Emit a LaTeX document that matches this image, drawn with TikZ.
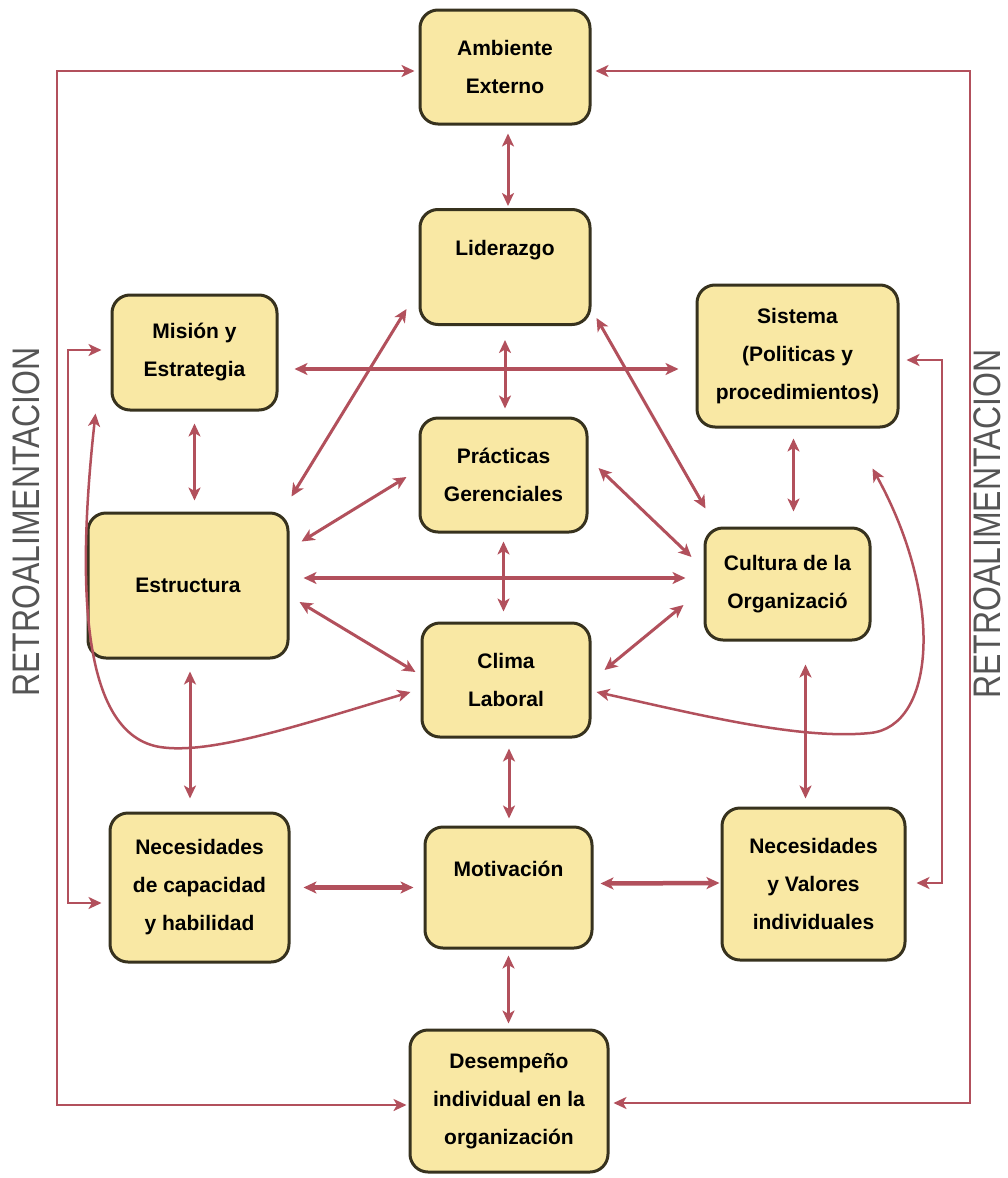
\documentclass[tikz,border=0pt]{standalone}
\usepackage{fontspec}
\setmainfont{Liberation Sans}
\usetikzlibrary{arrows.meta,calc}
\definecolor{boxfill}{RGB}{249,232,164}
\definecolor{boxline}{RGB}{55,50,30}
\definecolor{arrowc}{RGB}{178,80,92}
\definecolor{retro}{RGB}{85,85,85}
\begin{document}
\begin{tikzpicture}[x=1pt,y=-1pt,
  >={Stealth[length=13pt,width=12pt,inset=3.5pt]},
  box/.style={draw=boxline, fill=boxfill, line width=3pt, rounded corners=18pt, inner sep=0pt, align=center, font=\fontsize{21}{38}\selectfont\bfseries},
  arr/.style={draw=arrowc, line width=3pt, <->},
  arrthick/.style={arr, line width=4.5pt},
  curvearr/.style={arr, line width=2.5pt},
  fb/.style={draw=arrowc, line width=2.4pt, <->},
  retrotext/.style={rotate=90, text=retro, font=\fontsize{32}{32}\selectfont, inner sep=0pt}
]
\fill[white] (0,0) rectangle (1007,1178);
\useasboundingbox (0,0) rectangle (1007,1178);

% boxes
\node[box, minimum width=170pt, minimum height=114pt] (amb) at (505,67) {Ambiente\\Externo};
\node[box, minimum width=170pt, minimum height=115pt] (lid) at (505,267) {Liderazgo\\\mbox{}};
\node[box, minimum width=165pt, minimum height=115pt] (mis) at (194.5,352.5) {Misión y\\Estrategia};
\node[box, minimum width=201pt, minimum height=142pt] (sis) at (797.5,356) {Sistema\\(Politicas y\\procedimientos)};
\node[box, minimum width=167pt, minimum height=114pt] (pra) at (503.5,475) {Prácticas\\Gerenciales};
\node[box, minimum width=200pt, minimum height=145pt] (est) at (188,585.5) {Estructura};
\node[box, minimum width=165pt, minimum height=112pt] (cul) at (787.5,584) {Cultura de la\\Organizació};
\node[box, minimum width=168pt, minimum height=114pt] (cli) at (506,680) {Clima\\Laboral};
\node[box, minimum width=179pt, minimum height=149pt] (nca) at (199.5,887.5) {Necesidades\\de capacidad\\y habilidad};
\node[box, minimum width=167pt, minimum height=121pt] (mot) at (508.5,887.5) {Motivación\\\mbox{}};
\node[box, minimum width=183pt, minimum height=152pt] (nva) at (813.5,884) {Necesidades\\y Valores\\individuales};
\node[box, minimum width=198pt, minimum height=142pt] (des) at (509,1101) {Desempeño\\individual en la\\organización};

% side labels
\node[retrotext] (retroL) at (26,522) {\scalebox{1}[1.2]{RETROALIMENTACION}};
\node[retrotext] (retroR) at (987,524) {\scalebox{1}[1.2]{RETROALIMENTACION}};

% feedback loops
\coordinate (olt) at (57,71);
\coordinate (olb) at (57,1105);
\coordinate (ort) at (970,71);
\coordinate (orb) at (970,1103);
\coordinate (ilt) at (68,350);
\coordinate (ilb) at (68,903);
\coordinate (irt) at (942,360);
\coordinate (irb) at (942,883);
\draw[fb, shorten <=4pt, shorten >=2pt] (olt -| amb.west) -- (olt) -- (olb) -- (olb -| des.west);
\draw[fb, shorten <=4pt, shorten >=4pt] (ort -| amb.east) -- (ort) -- (orb) -- (orb -| des.east);
\draw[fb, shorten <=9pt, shorten >=7pt] (ilt -| mis.west) -- (ilt) -- (ilb) -- (ilb -| nca.west);
\draw[fb, shorten <=7pt, shorten >=10pt] (irt -| sis.east) -- (irt) -- (irb) -- (irb -| nva.east);

% vertical arrows
\draw[arr, shorten <=8pt, shorten >=2pt] ([xshift=3pt]amb.south) -- ([xshift=3pt]amb.south |- lid.north);
\draw[arr, shorten <=14pt, shorten >=8pt] (lid.south) -- (lid.south |- pra.north);
\draw[arr, shorten <=8pt, shorten >=10pt] (pra.south) -- (pra.south |- cli.north);
\draw[arr, shorten <=10pt, shorten >=7pt] ([xshift=3pt]cli.south) -- ([xshift=3pt]cli.south |- mot.north);
\draw[arr, shorten <=6pt, shorten >=5pt] (mot.south) -- (mot.south |- des.north);
\draw[arr, shorten <=12pt, shorten >=11pt] (mis.south) -- (mis.south |- est.north);
\draw[arr, shorten <=12pt, shorten >=13pt] ([xshift=2pt]est.south) -- ([xshift=2pt]est.south |- nca.north);
\draw[arr, shorten <=10pt, shorten >=15pt] ([xshift=-4pt]sis.south) -- ([xshift=-4pt]sis.south |- cul.north);
\draw[arr, shorten <=23pt, shorten >=8pt] ([xshift=18pt]cul.south) -- ([xshift=18pt]cul.south |- nva.north);

% horizontal arrows
\draw[arrthick] ($(mis.east)+(16,16.5)$) -- ($(sis.west)+(-17,13)$);
\draw[arrthick] ($(est.east)+(14,-7.5)$) -- ($(cul.west)+(-18,-6)$);
\draw[arrthick] ($(nca.east)+(13,0)$) -- ($(mot.west)+(-10,0)$);
\draw[arrthick] ($(mot.east)+(7,-4)$) -- ($(nva.west)+(-1,-1)$);

% diagonal arrows
\draw[arr] ($(lid.south west)+(-12,-17)$) -- ($(est.north east)+(2,-15)$);
\draw[arr] ($(est.north east)+(12,30)$) -- ($(pra.west)+(-12,2)$);
\draw[arr] ($(est.east)+(10,16.5)$) -- ($(cli.west)+(-5,-8)$);
\draw[arr] ($(lid.south east)+(5,-8)$) -- ($(cul.north west)+(2,-18)$);
\draw[arr] ($(pra.east)+(10,-7)$) -- ($(cul.west)+(-12,-27)$);
\draw[arr] ($(cli.east)+(13,-10)$) -- ($(cul.west)+(-20,21)$);

% curved arrows
\draw[curvearr] ($(cli.west)+(-10,12)$) .. controls (300,725) and (210,755) .. (160,747) .. controls (85,735) and (75,600) .. ($(mis.south west)+(-15,2)$);
\draw[curvearr] ($(cli.east)+(5,12)$) .. controls (700,715) and (800,740) .. (870,733) .. controls (935,727) and (945,600) .. ($(sis.south)+(75,40)$);
\end{tikzpicture}
\end{document}
